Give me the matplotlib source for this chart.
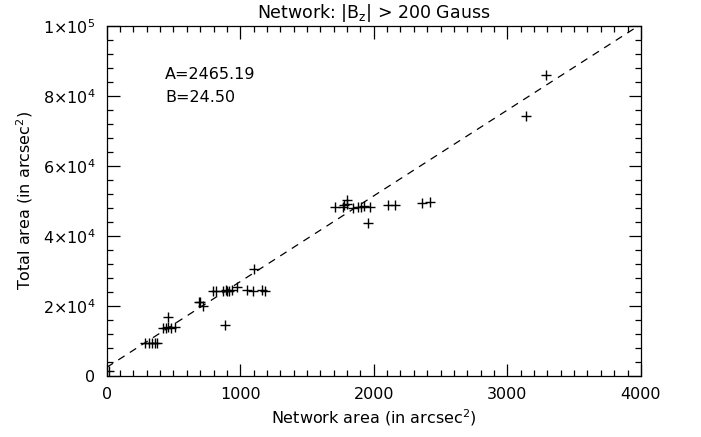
import matplotlib
matplotlib.use("Agg")
import matplotlib.pyplot as plt
import numpy as np
from matplotlib.ticker import MultipleLocator, FixedLocator

# Data
net_area = [20, 290, 320, 340, 360, 375,
            424, 444, 461, 479, 512, 461,
            699, 724, 694, 1104,
            799, 817, 874, 891, 903, 918, 936, 974, 1049, 1099, 1161, 1186, 887,
            1710, 1767, 1779, 1797, 1847, 1884, 1902, 1927, 1972, 1959, 1797,
            2109, 2159, 2364, 2421, 3141, 3291]
total_area = [1500, 9300, 9500, 9400, 9500, 9300,
              13800, 13700, 13900, 13800, 14000, 16900,
              21200, 20000, 21200, 30500,
              24300, 24400, 24300, 24500, 24300, 24400, 24500, 25300, 24600, 24300, 24500, 24300, 14600,
              48200, 48300, 48800, 50300, 48000, 48200, 48400, 48600, 48200, 43600, 49200,
              48900, 48900, 49300, 49600, 74400, 86000]
fit_A = 2465.19
fit_B = 24.50

title = "Network: |B$_\\mathregular{z}$| > 200 Gauss"
xlabel = "Network area (in arcsec$^\\mathregular{2}$)"
ylabel = "Total area (in arcsec$^\\mathregular{2}$)"
xticks = [0, 1000, 2000, 3000, 4000]
yticks = [0, 20000, 40000, 60000, 80000, 100000]
ytick_labels = ["0", "2×10$^\\mathregular{4}$", "4×10$^\\mathregular{4}$",
                "6×10$^\\mathregular{4}$", "8×10$^\\mathregular{4}$", "1×10$^\\mathregular{5}$"]

plt.rcParams['font.family'] = ['DejaVu Sans']
fig = plt.figure(figsize=(7.01, 4.37), dpi=100)
ax = fig.add_axes([0.1522, 0.1396, 0.762, 0.801])

ax.plot(net_area, total_area, linestyle='none', marker='+', color='black',
        markersize=7.5, markeredgewidth=1.0)
xx = np.array([0, 4000])
ax.plot(xx, fit_A + fit_B * xx, color='black', linewidth=0.9,
        dashes=(6, 5))

ax.set_xlim(0, 4000)
ax.set_ylim(0, 100000)
ax.set_xticks(xticks)
ax.set_xticklabels([str(t) for t in xticks])
ax.set_yticks(yticks)
ax.set_yticklabels(ytick_labels)
ax.xaxis.set_minor_locator(MultipleLocator(100))
ax.yaxis.set_minor_locator(MultipleLocator(4000))
ax.tick_params(which='both', direction='in', top=True, right=True,
               labelsize=11.5, colors='black', width=0.9)
ax.tick_params(which='major', length=9, pad=8)
ax.tick_params(which='minor', length=4)
for s in ax.spines.values():
    s.set_linewidth(0.9)

ax.set_xlabel(xlabel, fontsize=11.5, labelpad=4)
ax.set_ylabel(ylabel, fontsize=11.5, labelpad=6)
ax.set_title(title, fontsize=12.5, pad=6)

ax.text(0.109, 0.86, "A=%.2f" % fit_A, transform=ax.transAxes, fontsize=11.5,
        va='center', ha='left')
ax.text(0.109, 0.795, "B=%.2f" % fit_B, transform=ax.transAxes, fontsize=11.5,
        va='center', ha='left')

fig.savefig("out.png", dpi=100)
